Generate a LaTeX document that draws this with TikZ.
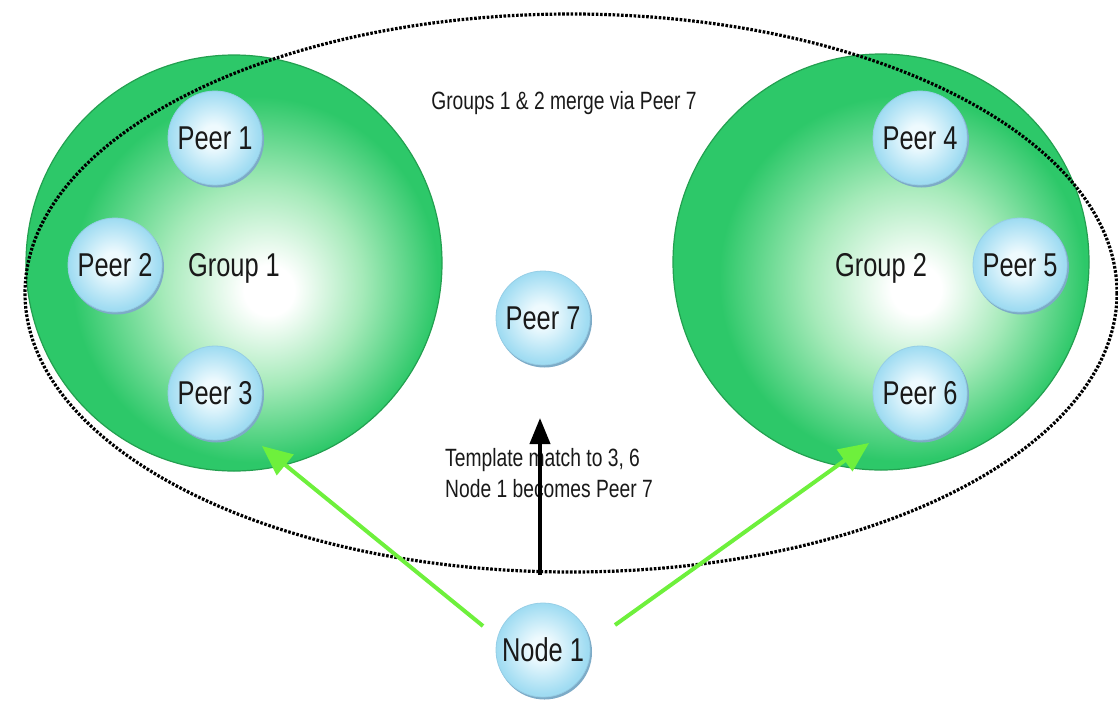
\documentclass[tikz,border=0pt]{standalone}
\usepackage{fontspec}
\usetikzlibrary{arrows.meta}
\newfontfamily\nf[FakeStretch=0.77]{Liberation Sans}
\definecolor{gM}{RGB}{45,200,105}
\definecolor{gL}{RGB}{165,234,185}
\definecolor{gD}{RGB}{35,160,80}
\definecolor{pO}{RGB}{160,220,242}
\definecolor{pI}{RGB}{238,250,254}
\definecolor{pS}{RGB}{110,150,180}
\definecolor{arrG}{RGB}{110,240,60}
\definecolor{txt}{RGB}{25,25,25}
\pgfdeclareradialshading{grpshade}{\pgfpoint{4.5bp}{-3.5bp}}{color(0bp)=(white); color(3bp)=(white); color(12bp)=(gL); color(22bp)=(gM); color(50bp)=(gM)}
\pgfdeclareradialshading{peershade}{\pgfpoint{-1bp}{1bp}}{color(0bp)=(pI); color(6bp)=(pI); color(24bp)=(pO); color(50bp)=(pO)}
\tikzset{
  grp/.style={circle, minimum size=416pt, inner sep=0pt, shading=grpshade, draw=gD, line width=1.2pt, text=txt, font=\nf\fontsize{33}{36}\selectfont},
  peer/.style={circle, minimum size=94pt, inner sep=0pt, shading=peershade, draw=pO!80!pS, line width=0.8pt, text=txt, font=\nf\fontsize{33}{36}\selectfont},
  pshadow/.style={circle, minimum size=95pt, inner sep=0pt, fill=pS!70!pO},
  lbl/.style={text=txt, font=\nf\fontsize{25}{31}\selectfont, inner sep=0pt},
  dotline/.style={line width=3.2pt, dash pattern=on 2.6pt off 1.6pt},
  garrow/.style={draw=arrG, line width=4pt, -{Triangle[length=30pt,width=26pt]}},
  barrow/.style={draw=black, line width=4pt, -{Triangle[length=26pt,width=20pt]}}
}
\begin{document}
\begin{tikzpicture}[x=1pt,y=-1pt]
\useasboundingbox (0,0) rectangle (1118,705);
% groups
\node[grp] (g1) at (234,263) {};
\node[grp] (g2) at (881,262) {};
\node[text=txt, font=\nf\fontsize{33}{36}\selectfont] (g1l) at (234,268) {Group 1};
\node[text=txt, font=\nf\fontsize{33}{36}\selectfont] (g2l) at (881,268) {Group 2};
% merge ellipse
\draw[dotline] (571,293) ellipse [x radius=546, y radius=279];
% peers
\foreach \n/\x/\y/\t in {p1/215/138/Peer 1, p2/115/265/Peer 2, p3/215/393/Peer 3, p4/920/138/Peer 4, p5/1020/265/Peer 5, p6/920/393/Peer 6, p7/543/318/Peer 7, n1/543/650/Node 1}{
  \node[pshadow] at (\x+1.5,\y+2) {};
  \node[peer] (\n) at (\x,\y) {\t};
}
% labels
\node[lbl] (title) at (564,103) {Groups 1 \& 2 merge via Peer 7};
\node[lbl, align=left, anchor=north west] (cap) at (445,448) {Template match to 3, 6\\Node 1 becomes Peer 7};
% arrows
\coordinate (bs) at (540,575);
\coordinate (bt) at (540,418);
\draw[barrow] (bs) -- (bt);
\path (n1.center) ++(-60,-24) coordinate (gs1);
\path (n1.center) ++(72,-25) coordinate (gs2);
\coordinate (gt1) at (262,446);
\coordinate (gt2) at (869,443);
\draw[garrow] (gs1) -- (gt1);
\draw[garrow] (gs2) -- (gt2);
\end{tikzpicture}
\end{document}
